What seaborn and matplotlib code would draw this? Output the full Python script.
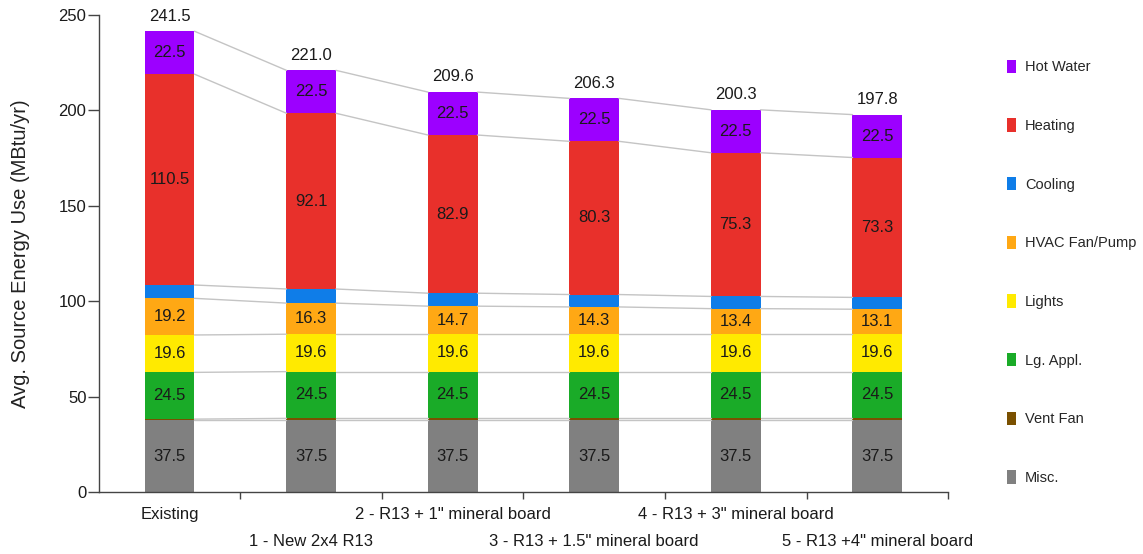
import numpy as np
import pandas as pd
import matplotlib
matplotlib.use("Agg")
import matplotlib.pyplot as plt
from matplotlib.patches import Patch
from matplotlib.ticker import FixedLocator
import seaborn as sns

# Scenario names (x axis)
cases = ["Existing", "1 - New 2x4 R13", "2 - R13 + 1\" mineral board",
         "3 - R13 + 1.5\" mineral board", "4 - R13 + 3\" mineral board",
         "5 - R13 +4\" mineral board"]

# End-use source energy, MBtu/yr (stacked bottom to top)
misc = [37.5, 37.5, 37.5, 37.5, 37.5, 37.5]
vent_fan = [0.7, 1.1, 1.1, 1.1, 1.1, 1.1]
lg_appl = [24.5, 24.5, 24.5, 24.5, 24.5, 24.5]
lights = [19.6, 19.6, 19.6, 19.6, 19.6, 19.6]
hvac_fan = [19.2, 16.3, 14.7, 14.3, 13.4, 13.1]
cooling = [7.0, 7.4, 6.8, 6.5, 6.4, 6.2]
heating = [110.5, 92.1, 82.9, 80.3, 75.3, 73.3]
hot_water = [22.5, 22.5, 22.5, 22.5, 22.5, 22.5]

end_uses = ["Misc.", "Vent Fan", "Lg. Appl.", "Lights", "HVAC Fan/Pump",
            "Cooling", "Heating", "Hot Water"]
series = [misc, vent_fan, lg_appl, lights, hvac_fan, cooling, heating, hot_water]
colors = ["#808080", "#7a5000", "#1aab28", "#ffea00", "#ffa814",
          "#0f7de8", "#e8302b", "#9c00ff"]
show_value = [True, False, True, True, True, False, True, True]

vals = np.array(series, dtype=float)
tops = np.cumsum(vals, axis=0)
bottoms = tops - vals
totals = tops[-1]

sns.set_style("white")
plt.rcParams["font.family"] = ["Liberation Sans", "DejaVu Sans"]

TXT = "#1a1a1a"
FS = 12

fig = plt.figure(figsize=(11.43, 5.54), dpi=100)
ax = fig.add_axes([0.0866, 0.1119, 0.7428, 0.861])

bar_w = 0.35
# Overlay cumulative bars from the tallest down so each layer shows as a stacked segment
for k in range(len(end_uses) - 1, -1, -1):
    df = pd.DataFrame({"case": cases, "value": tops[k]})
    sns.barplot(data=df, x="case", y="value", order=cases, color=colors[k],
                width=bar_w, linewidth=0, saturation=1, ax=ax, errorbar=None)

# Connector lines between neighbouring bars at every segment boundary
x = np.arange(len(cases))
for k in range(len(end_uses)):
    for i in range(len(cases) - 1):
        ax.plot([i + bar_w / 2, i + 1 - bar_w / 2], [tops[k][i], tops[k][i + 1]],
                color="#c4c4c4", lw=1.0, zorder=1)

# Segment values
for k in range(len(end_uses)):
    if not show_value[k]:
        continue
    for i in range(len(cases)):
        ax.text(i, bottoms[k][i] + vals[k][i] / 2, f"{vals[k][i]:.1f}",
                ha="center", va="center", fontsize=FS, color=TXT, zorder=5)

# Totals above each bar
for i in range(len(cases)):
    ax.text(i, totals[i] + 4, f"{totals[i]:.1f}", ha="center", va="bottom",
            fontsize=FS, color=TXT, clip_on=False)

ax.set_xlim(-0.5, len(cases) - 0.5)
ax.set_ylim(0, 250)
ax.set_yticks([0, 50, 100, 150, 200, 250])
ax.set_ylabel("Avg. Source Energy Use (MBtu/yr)", fontsize=14.5, color="#222222")
ax.yaxis.set_label_coords(-0.081, 0.5)
ax.set_xlabel("")

# Category labels on two staggered rows below the axis
ax.set_xticks(x)
ax.set_xticklabels([""] * len(cases))
for i, name in enumerate(cases):
    dy = -16.5 if i % 2 == 0 else -35.3
    ax.annotate(name, xy=(i, 0), xycoords=("data", "axes fraction"),
                xytext=(0, dy), textcoords="offset points",
                ha="center", va="center", fontsize=FS, color=TXT,
                annotation_clip=False)
ax.xaxis.set_minor_locator(FixedLocator(np.arange(len(cases)) + 0.5))
ax.tick_params(axis="x", which="major", length=0)
ax.tick_params(axis="x", which="minor", length=5, width=1, color="#444444",
               direction="out", bottom=True)
ax.tick_params(axis="y", length=8, width=1, color="#444444", direction="out",
               left=True, labelsize=FS, labelcolor=TXT, pad=1)

sns.despine(ax=ax)
for s in ["left", "bottom"]:
    ax.spines[s].set_color("#444444")
    ax.spines[s].set_linewidth(1.0)

# Legend, top entry first
handles = [Patch(facecolor=colors[k], edgecolor="none", label=end_uses[k])
           for k in range(len(end_uses) - 1, -1, -1)]
fig.legend(handles=handles, loc="upper left", bbox_to_anchor=(0.8755, 0.903),
           frameon=False, fontsize=10.5, handlelength=0.68, handleheight=1.03,
           handletextpad=0.6, labelspacing=3.02, borderaxespad=0)

fig.savefig("out.png", dpi=100)
